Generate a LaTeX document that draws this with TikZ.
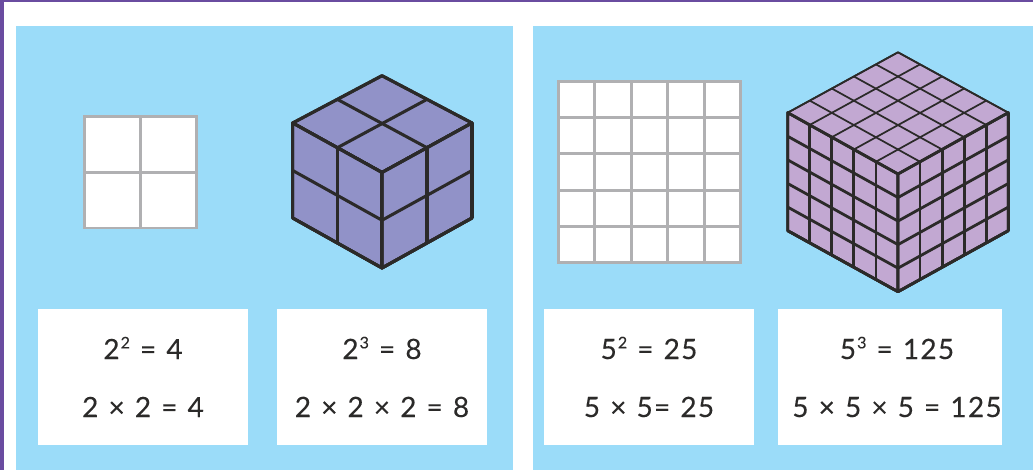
\documentclass[tikz,border=0pt]{standalone}
\usepackage{fontspec}
\setmainfont[LetterSpace=4.5,WordSpace=1.2,FakeBold=0.15]{Lato}
\usepackage{tikz}
\usetikzlibrary{calc}
\definecolor{powbar}{RGB}{106,76,160}
\definecolor{powsky}{RGB}{155,220,249}
\definecolor{powgrey}{RGB}{176,176,178}
\definecolor{powink}{RGB}{43,42,41}
\definecolor{powblue}{RGB}{145,146,200}
\definecolor{powlilac}{RGB}{194,168,210}
\tikzset{
  %% ---- faces ----
  flatgrid/.style  = {draw=powgrey, line width=2.2pt, fill=white},
  bluecube/.style  = {draw=powink, line width=2.3pt, fill=powblue, line join=round},
  lilactop/.style  = {draw=powink, line width=1.3pt, fill=powlilac, line join=round},
  lilacside/.style = {draw=powink, line width=2.1pt, fill=powlilac, line join=round},
  %% ---- cards ----
  card/.style = {rectangle, fill=white, text=powink, inner sep=0pt,
                 minimum width=#1, minimum height=102pt, align=center,
                 font=\fontsize{21}{43.5}\selectfont},
  card/.default = 157.5pt,
}
%% one n x n face, corners in order round the face
\newcommand{\facegrid}[6]{%
  \path[#1] (#2) -- (#3) -- (#4) -- (#5) -- cycle;
  \foreach \i in {1,...,#6} {
    \draw[#1, fill=none] ($(#2)!{\i/#6}!(#3)$) -- ($(#5)!{\i/#6}!(#4)$);
    \draw[#1, fill=none] ($(#2)!{\i/#6}!(#5)$) -- ($(#3)!{\i/#6}!(#4)$);
  }
  \path[#1, fill=none] (#2) -- (#3) -- (#4) -- (#5) -- cycle;
}
%% small raised exponent
\newcommand{\pow}[1]{\kern0.8pt\raisebox{8pt}{\fontsize{12}{12}\selectfont #1}}
\begin{document}
\begin{tikzpicture}[x=0.75pt, y=-0.75pt]
\useasboundingbox (0,0) rectangle (1033,470);

%% ── Frame and panels ──────────────────────────────────────────────────────
\fill[powbar] (0,0) rectangle (1033,2.5);
\fill[powbar] (0,0) rectangle (3.5,470);
\fill[powsky] (16,26) rectangle (513,470);
\fill[powsky] (533,26) rectangle (1033,470);

%% ── Squares ───────────────────────────────────────────────────────────────
\coordinate (sa) at (84.5,116.3);
\coordinate (sb) at (196.8,116.3);
\coordinate (sc) at (196.8,228);
\coordinate (sd) at (84.5,228);
\facegrid{flatgrid}{sa}{sb}{sc}{sd}{2}

\coordinate (ta) at (558.5,81.2);
\coordinate (tb) at (740.5,81.2);
\coordinate (tc) at (740.5,262.8);
\coordinate (td) at (558.5,262.8);
\facegrid{flatgrid}{ta}{tb}{tc}{td}{5}

%% ── Cube of two ───────────────────────────────────────────────────────────
\coordinate (top)   at (382,75.7);
\coordinate (left)  at (292.7,123);
\coordinate (right) at (472,123);
\coordinate (mid)   at (382,172.5);
\coordinate (lowl)  at (292.7,218);
\coordinate (lowr)  at (472,218);
\coordinate (base)  at (382,268);
\facegrid{bluecube}{top}{right}{mid}{left}{2}
\facegrid{bluecube}{left}{mid}{base}{lowl}{2}
\facegrid{bluecube}{mid}{right}{lowr}{base}{2}

%% ── Cube of five ──────────────────────────────────────────────────────────
\coordinate (topb)   at (898,52.3);
\coordinate (leftb)  at (787.7,112.7);
\coordinate (rightb) at (1008.3,112.7);
\coordinate (midb)   at (898,174);
\coordinate (lowlb)  at (787.7,230.7);
\coordinate (lowrb)  at (1008.3,230.7);
\coordinate (baseb)  at (898,291.7);
\facegrid{lilactop}{topb}{rightb}{midb}{leftb}{5}
\facegrid{lilacside}{leftb}{midb}{baseb}{lowlb}{5}
\facegrid{lilacside}{midb}{rightb}{lowrb}{baseb}{5}

%% ── Cards ─────────────────────────────────────────────────────────────────
\node[card] (sqtwo)   at (143,377) {2\pow{2} = 4\\2 × 2 = 4};
\node[card] (cubetwo) at (382,377) {2\pow{3} = 8\\2 × 2 × 2 = 8};
\node[card] (sqfive)  at (649,377) {5\pow{2} = 25\\5 × 5= 25};
\node[card=168pt] (cubefive) at (890,377)
  {\hspace*{10.5pt}5\pow{3} = 125\\\hspace*{10.5pt}5 × 5 × 5 = 125};

\end{tikzpicture}
\end{document}
